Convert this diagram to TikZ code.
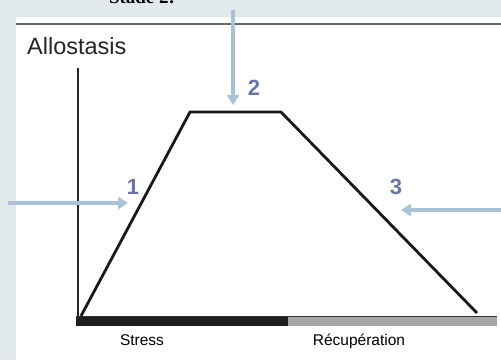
\documentclass[tikz,border=0pt]{standalone}
\usepackage{fontspec}
\setmainfont{Liberation Sans}
\newfontfamily\stadefont{Liberation Serif}
\usetikzlibrary{positioning,arrows.meta,calc}
\definecolor{panelbg}{HTML}{E1E9ED}
\definecolor{arrowblue}{HTML}{A8C3D7}
\definecolor{numblue}{HTML}{6875A8}
\tikzset{
  stagearrow/.style={arrowblue,line width=3.6pt,-{Triangle[length=10pt,width=12pt]}},
  stagenum/.style={numblue,font=\fontsize{22}{24}\selectfont\bfseries,inner sep=0pt,anchor=base},
  axislabel/.style={font=\fontsize{15.5}{17}\selectfont,inner sep=0pt,anchor=base},
}

\begin{document}
\begin{tikzpicture}[x=1pt,y=-1pt]
\useasboundingbox (0,0) rectangle (501,360);
\clip (0,0) rectangle (501,360);
% background and white panel
\fill[panelbg] (0,0) rectangle (501,360);
\fill[white] (16,17) rectangle (501,360);
\draw[black!60,line width=1.2pt] (16,24) -- (501,24);
% title cut off by the top edge
\node[font=\stadefont\fontsize{19}{21}\selectfont\bfseries,anchor=base,inner sep=0pt] (stade) at (142,3) {Stade 2:};
\node[font=\fontsize{23.5}{26}\selectfont,anchor=base west,inner sep=0pt,black!85] (title) at (27,54) {Allostasis};
% axis and time bar
\coordinate (origin) at (78,316);
\coordinate (ytop) at (78,68);
\draw[line width=1.2pt,black!85] (origin) -- (ytop);
\fill[black!88] (76,316) rectangle (288,326);
\fill[black!35] (288,316) rectangle (497,326);
\draw[black!80,line width=1pt] (76,316.5) -- (497,316.5);
\node[axislabel] (stress) at (142,345) {Stress};
\node[axislabel] (recup) at (359,345) {Récupération};
% allostasis curve: rise, plateau, return
\coordinate (c0) at (81,316);
\coordinate (c1) at (190,112);
\coordinate (c2) at (281,112);
\coordinate (c3) at (477,313);
\draw[line width=2.8pt,black!90] (c0) -- (c1) -- (c2) -- (c3);
% stage arrows and numbers
\coordinate (a1s) at (8,203);
\coordinate (a1e) at (128,203);
\draw[stagearrow] (a1s) -- (a1e);
\node[stagenum] (n1) at (133,194) {1};
\coordinate (a2s) at (233,10);
\coordinate (a2e) at (233,105);
\draw[stagearrow] (a2s) -- (a2e);
\node[stagenum] (n2) at (254,95) {2};
\coordinate (a3s) at (501,210);
\coordinate (a3e) at (401,210);
\draw[stagearrow] (a3s) -- (a3e);
\node[stagenum] (n3) at (396,194) {3};
\end{tikzpicture}
\end{document}
